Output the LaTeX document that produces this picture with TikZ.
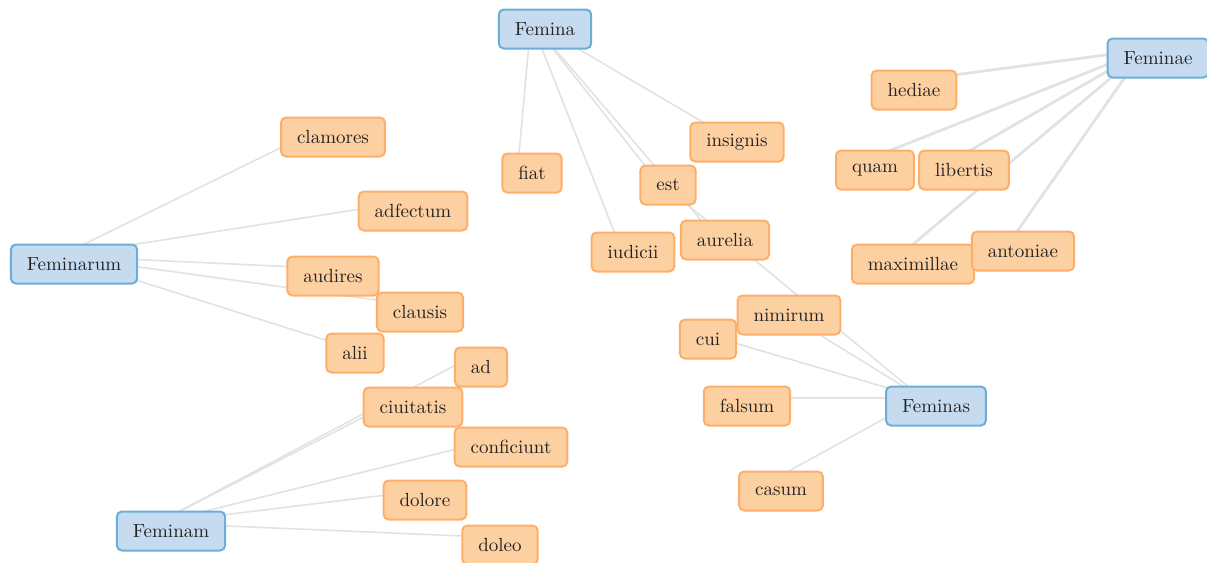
\documentclass[tikz,border=0pt]{standalone}
\usepackage{xcolor}
\usepackage{tikz}
\usetikzlibrary{backgrounds}

\definecolor{hubfill}{HTML}{C6DBEF}
\definecolor{hubline}{HTML}{6BAED6}
\definecolor{wordfill}{HTML}{FDD0A2}
\definecolor{wordline}{HTML}{FDAE6B}
\definecolor{linkgray}{HTML}{E2E2E2}
\definecolor{inkgray}{HTML}{222222}

\begin{document}
\begin{tikzpicture}[
        x = 0.5pt, y = -0.5pt,
        box/.style = {rectangle, rounded corners=2.5pt, line width=1pt, text=inkgray,
                      inner xsep=8pt, inner ysep=0pt, minimum height=19.5pt,
                      font=\fontsize{9.5}{11}\selectfont},
        hub/.style = {box, draw=hubline, fill=hubfill},
        word/.style = {box, draw=wordline, fill=wordfill},
        link/.style = {draw=linkgray, line width=0.8pt},
        heavylink/.style = {link, line width=1.4pt},
        tip/.style = {shift={(-14,-8)}}
    ]
    \useasboundingbox (0,0) rectangle (1207,563);

    % Hub words
    \node[hub] (femina) at (545,29) {Femina};
    \node[hub] (feminae) at (1158,58) {Feminae};
    \node[hub] (feminarum) at (74,264) {Feminarum};
    \node[hub] (feminam) at (171,531) {Feminam};
    \node[hub] (feminas) at (936,406) {Feminas};

    % Words round Feminarum
    \node[word] (clamores) at (333,137) {clamores};
    \node[word] (adfectum) at (413,211) {adfectum};
    \node[word] (audires) at (333,276) {audires};
    \node[word] (clausis) at (420,312) {clausis};
    \node[word] (alii) at (355,353) {alii};

    % Words round Feminam
    \node[word] (ad) at (481,367) {ad};
    \node[word] (ciuitatis) at (413,407) {ciuitatis};
    \node[word] (conficiunt) at (511,447) {conficiunt};
    \node[word] (dolore) at (425,500) {dolore};
    \node[word] (doleo) at (500,545) {doleo};

    % Words round Femina
    \node[word] (fiat) at (532,173) {fiat};
    \node[word] (iudicii) at (633,252) {iudicii};
    \node[word] (insignis) at (737,142) {insignis};
    \node[word] (est) at (668,185) {est};
    \node[word] (aurelia) at (725,240) {aurelia};

    % Words round Feminas
    \node[word] (nimirum) at (789,315) {nimirum};
    \node[word] (cui) at (708,339) {cui};
    \node[word] (falsum) at (747,406) {falsum};
    \node[word] (casum) at (781,491) {casum};

    % Words round Feminae
    \node[word] (hediae) at (914,90) {hediae};
    \node[word] (quam) at (875,170) {quam};
    \node[word] (libertis) at (964,170) {libertis};
    \node[word] (maximillae) at (913,264) {maximillae};
    \node[word] (antoniae) at (1023,251) {antoniae};

    % Links, behind the boxes
    \begin{scope}[on background layer]
    \draw[link] ([tip]feminarum.center) -- ([tip]clamores.center);
    \draw[link] ([tip]feminarum.center) -- ([tip]adfectum.center);
    \draw[link] ([tip]feminarum.center) -- ([tip]audires.center);
    \draw[link] ([tip]feminarum.center) -- ([tip]clausis.center);
    \draw[link] ([tip]feminarum.center) -- ([tip]alii.center);

    \draw[link] ([tip]feminam.center) -- ([tip]ad.center);
    \draw[link] ([tip]feminam.center) -- ([tip]ciuitatis.center);
    \draw[link] ([tip]feminam.center) -- ([tip]conficiunt.center);
    \draw[link] ([tip]feminam.center) -- ([tip]dolore.center);
    \draw[link] ([tip]feminam.center) -- ([tip]doleo.center);

    \draw[link] ([tip]femina.center) -- ([tip]fiat.center);
    \draw[link] ([tip]femina.center) -- ([tip]iudicii.center);
    \draw[link] ([tip]femina.center) -- ([tip]insignis.center);
    \draw[link] ([tip]femina.center) -- ([tip]est.center);
    \draw[link] ([tip]femina.center) -- ([tip]aurelia.center);

    \draw[link] ([tip]feminas.center) -- ([tip]est.center);
    \draw[link] ([tip]feminas.center) -- ([tip]nimirum.center);
    \draw[link] ([tip]feminas.center) -- ([tip]cui.center);
    \draw[link] ([tip]feminas.center) -- ([tip]falsum.center);
    \draw[link] ([tip]feminas.center) -- ([tip]casum.center);

    \draw[heavylink] ([tip]feminae.center) -- ([tip]hediae.center);
    \draw[heavylink] ([tip]feminae.center) -- ([tip]quam.center);
    \draw[heavylink] ([tip]feminae.center) -- ([tip]libertis.center);
    \draw[heavylink] ([tip]feminae.center) -- ([tip]maximillae.center);
    \draw[heavylink] ([tip]feminae.center) -- ([tip]antoniae.center);
    \end{scope}

\end{tikzpicture}
\end{document}
